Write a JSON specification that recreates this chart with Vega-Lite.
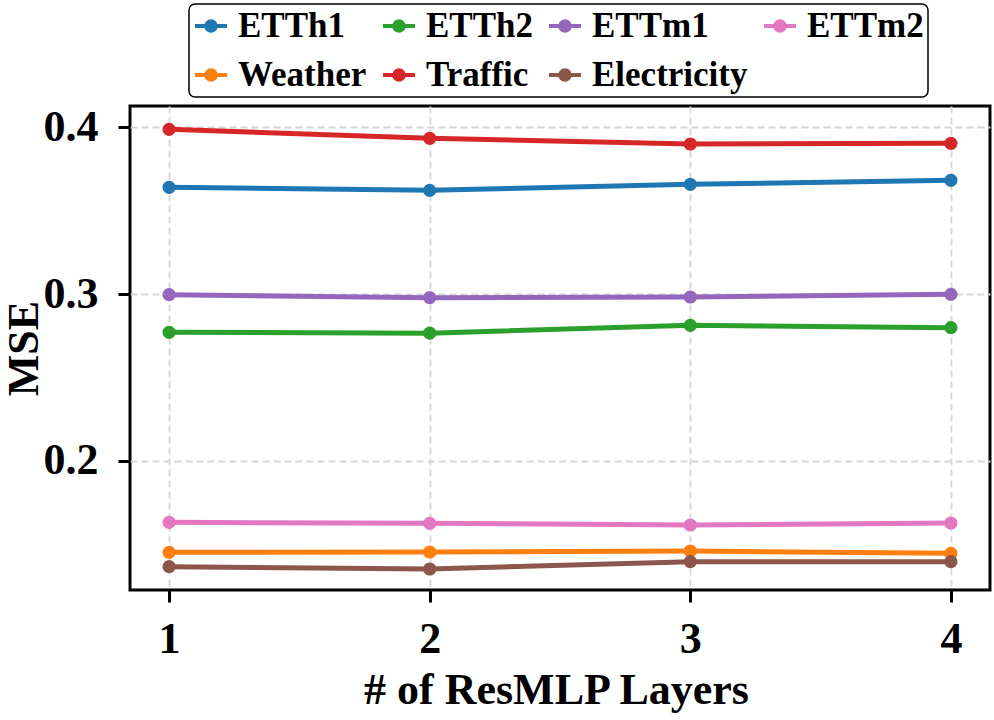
{
  "$schema": "https://vega.github.io/schema/vega-lite/v6.json",
  "autosize": "none",
  "width": 860,
  "height": 484,
  "padding": {"left": 130, "top": 106, "right": 4, "bottom": 130},
  "background": "white",
  "config": {
    "view": {"stroke": "black", "strokeWidth": 3},
    "font": "Liberation Serif",
    "axis": {
      "domain": false,
      "grid": true,
      "gridColor": "#d6d6d6",
      "gridDash": [7, 4],
      "gridWidth": 1.8,
      "ticks": true,
      "tickColor": "black",
      "tickWidth": 3,
      "tickSize": 12,
      "labelFont": "Liberation Serif",
      "labelFontSize": 44,
      "labelFontWeight": "bold",
      "labelColor": "black",
      "titleFont": "Liberation Serif",
      "titleFontSize": 44,
      "titleFontWeight": "bold",
      "titleColor": "black"
    }
  },
  "data": {
    "values": [
      {"layers": 1, "dataset": "ETTh1", "mse": 0.3640},
      {"layers": 2, "dataset": "ETTh1", "mse": 0.3622},
      {"layers": 3, "dataset": "ETTh1", "mse": 0.3658},
      {"layers": 4, "dataset": "ETTh1", "mse": 0.3682},
      {"layers": 1, "dataset": "ETTh2", "mse": 0.2770},
      {"layers": 2, "dataset": "ETTh2", "mse": 0.2765},
      {"layers": 3, "dataset": "ETTh2", "mse": 0.2812},
      {"layers": 4, "dataset": "ETTh2", "mse": 0.2798},
      {"layers": 1, "dataset": "ETTm1", "mse": 0.2996},
      {"layers": 2, "dataset": "ETTm1", "mse": 0.2978},
      {"layers": 3, "dataset": "ETTm1", "mse": 0.2982},
      {"layers": 4, "dataset": "ETTm1", "mse": 0.2998},
      {"layers": 1, "dataset": "ETTm2", "mse": 0.1630},
      {"layers": 2, "dataset": "ETTm2", "mse": 0.1624},
      {"layers": 3, "dataset": "ETTm2", "mse": 0.1614},
      {"layers": 4, "dataset": "ETTm2", "mse": 0.1626},
      {"layers": 1, "dataset": "Weather", "mse": 0.1450},
      {"layers": 2, "dataset": "Weather", "mse": 0.1452},
      {"layers": 3, "dataset": "Weather", "mse": 0.1458},
      {"layers": 4, "dataset": "Weather", "mse": 0.1444},
      {"layers": 1, "dataset": "Traffic", "mse": 0.3988},
      {"layers": 2, "dataset": "Traffic", "mse": 0.3934},
      {"layers": 3, "dataset": "Traffic", "mse": 0.3900},
      {"layers": 4, "dataset": "Traffic", "mse": 0.3904},
      {"layers": 1, "dataset": "Electricity", "mse": 0.1364},
      {"layers": 2, "dataset": "Electricity", "mse": 0.1350},
      {"layers": 3, "dataset": "Electricity", "mse": 0.1394},
      {"layers": 4, "dataset": "Electricity", "mse": 0.1394}
    ]
  },
  "encoding": {
    "x": {
      "field": "layers",
      "type": "quantitative",
      "scale": {"domain": [0.85, 4.15], "nice": false, "zero": false},
      "axis": {
        "values": [1, 2, 3, 4],
        "format": "d",
        "labelPadding": 15,
        "title": "# of ResMLP Layers",
        "titleX": 426,
        "titleY": 113,
        "titleBaseline": "alphabetic",
        "titleAlign": "center"
      }
    },
    "y": {
      "field": "mse",
      "type": "quantitative",
      "scale": {"domain": [0.1224, 0.4128], "nice": false, "zero": false},
      "axis": {
        "values": [0.2, 0.3, 0.4],
        "format": ".1f",
        "labelPadding": 20,
        "title": "MSE",
        "titleX": -93,
        "titleY": 242,
        "titleAngle": -90,
        "titleBaseline": "alphabetic",
        "titleAlign": "center"
      }
    },
    "color": {
      "field": "dataset",
      "type": "nominal",
      "scale": {
        "domain": ["ETTh1", "ETTh2", "ETTm1", "ETTm2", "Weather", "Traffic", "Electricity"],
        "range": ["#1f77b4", "#2ca02c", "#9467bd", "#e377c2", "#ff7f0e", "#d62728", "#8c564b"]
      },
      "legend": {
        "title": null,
        "orient": "none",
        "legendX": 59,
        "legendY": -102,
        "direction": "horizontal",
        "columns": 4,
        "columnPadding": 8,
        "rowPadding": 13,
        "padding": 4,
        "strokeColor": "black",
        "cornerRadius": 6,
        "fillColor": "white",
        "labelFont": "Liberation Serif",
        "labelFontSize": 35,
        "labelFontWeight": "bold",
        "labelColor": "black",
        "labelOffset": 9,
        "labelLimit": 400,
        "symbolType": "M-1,0L1,0M0.3,0A0.3,0.3,0,1,1,-0.3,0A0.3,0.3,0,1,1,0.3,0Z",
        "symbolSize": 1024,
        "symbolStrokeWidth": 4,
        "encode": {
          "legend": {
            "update": {
              "strokeWidth": {"value": 1.5}
            }
          },
          "symbols": {
            "update": {
              "fill": {"scale": "color", "field": "value"},
              "stroke": {"scale": "color", "field": "value"},
              "strokeWidth": {"value": 4},
              "opacity": {"value": 1}
            }
          }
        }
      }
    },
    "detail": {"field": "dataset"}
  },
  "layer": [
    {"mark": {"type": "line", "strokeWidth": 5}},
    {"mark": {"type": "point", "filled": true, "size": 175, "opacity": 1}}
  ]
}
